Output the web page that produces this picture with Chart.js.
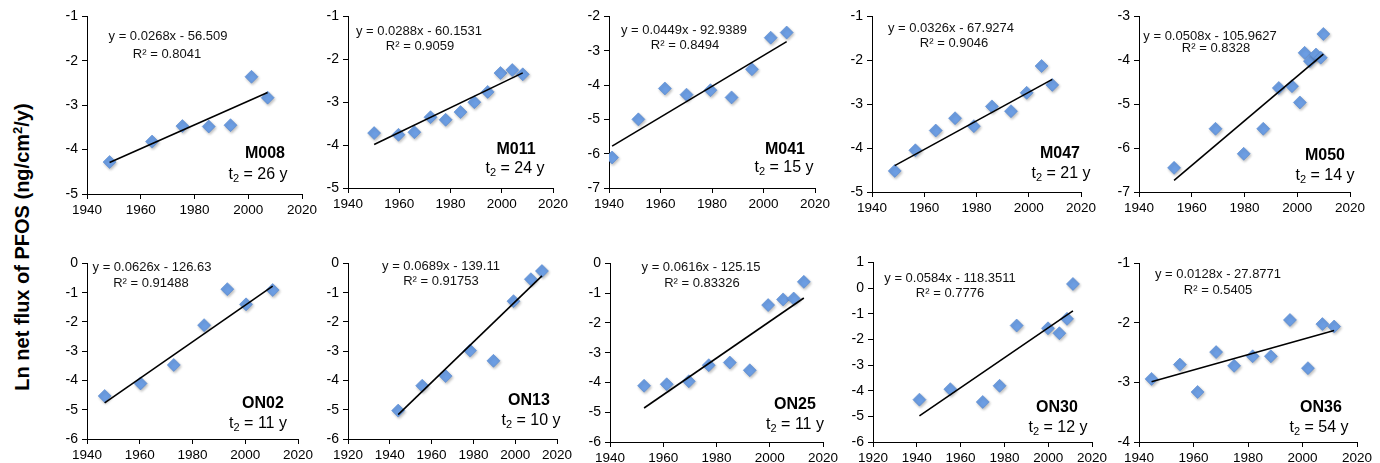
<!DOCTYPE html>
<html>
<head>
<meta charset="utf-8">
<script src="https://cdn.jsdelivr.net/npm/chart.js@4.4.1/dist/chart.umd.min.js"></script>
<style>
  html, body { margin: 0; padding: 0; background: #fff; }
  body { width: 1380px; height: 463px; position: relative; overflow: hidden;
         font-family: "Liberation Sans", Arial, Helvetica, sans-serif; color: #000; }
  .panel { position: absolute; }
  .txt { position: absolute; transform: translate(-50%, -50%); white-space: nowrap; }
  .eq { font-size: 13px; color: #111; }
  .name { font-size: 16px; font-weight: bold; }
  .t2 { font-size: 16px; }
  .t2 sub { font-size: 11px; vertical-align: -3px; line-height: 0; }
  #ytitle { position: absolute; left: 22px; top: 247px; transform: translate(-50%, -50%) rotate(-90deg);
            font-size: 20px; font-weight: bold; white-space: nowrap; }
  #ytitle sup { font-size: 13px; vertical-align: 7px; line-height: 0; }
</style>
</head>
<body>
<div id="ytitle">Ln net flux of PFOS (ng/cm<sup>2</sup>/y)</div>
<script>
// ---------------- DATA ----------------
const stations = ['M008', 'M011', 'M041', 'M047', 'M050', 'ON02', 'ON13', 'ON25', 'ON30', 'ON36'];

const m008Years = [1948.4, 1964.2, 1975.5, 1985.3, 1993.4, 2001.2, 2007.2];
const m008Flux  = [-4.28, -3.82, -3.47, -3.48, -3.45, -2.36, -2.83];

const m011Years = [1950.2, 1959.7, 1965.9, 1972.2, 1978.1, 1983.9, 1989.3, 1994.5, 1999.5, 2004.1, 2008.2];
const m011Flux  = [-3.72, -3.76, -3.70, -3.35, -3.41, -3.23, -3.00, -2.76, -2.32, -2.25, -2.35];

const m041Years = [1941.2, 1951.4, 1961.7, 1970.1, 1979.4, 1987.6, 1995.5, 2002.8, 2009.0];
const m041Flux  = [-6.11, -5.00, -4.10, -4.28, -4.15, -4.36, -3.54, -2.62, -2.47];

const m047Years = [1948.7, 1956.6, 1964.4, 1971.8, 1979.0, 1985.9, 1993.2, 1999.2, 2004.9, 2009.0];
const m047Flux  = [-4.52, -4.05, -3.60, -3.32, -3.50, -3.05, -3.16, -2.74, -2.13, -2.56];

const m050Years = [1953.3, 1969.0, 1979.7, 1987.1, 1993.0, 1998.0, 2001.0, 2002.8, 2004.8, 2007.1, 2008.9, 2009.9];
const m050Flux  = [-6.45, -5.56, -6.13, -5.56, -4.63, -4.59, -4.96, -3.83, -4.02, -3.87, -3.94, -3.40];

const on02Years = [1946.7, 1960.3, 1972.9, 1984.4, 1993.2, 2000.3, 2010.4];
const on02Flux  = [-4.53, -4.10, -3.47, -2.11, -0.88, -1.40, -0.91];

const on13Years = [1944.0, 1955.5, 1966.7, 1978.4, 1989.6, 1999.2, 2007.5, 2012.8];
const on13Flux  = [-5.03, -4.18, -3.85, -2.98, -3.33, -1.29, -0.54, -0.26];

const on25Years = [1952.8, 1961.3, 1969.6, 1977.1, 1985.0, 1992.5, 1999.4, 2005.0, 2009.0, 2012.8];
const on25Flux  = [-4.11, -4.06, -3.96, -3.42, -3.33, -3.59, -1.40, -1.21, -1.18, -0.62];

const on30Years = [1941.2, 1955.3, 1970.1, 1977.8, 1985.6, 1999.9, 2005.1, 2008.6, 2011.3];
const on30Flux  = [-4.35, -3.94, -4.44, -3.81, -1.46, -1.57, -1.76, -1.20, 0.16];

const on36Years = [1944.6, 1955.0, 1961.5, 1968.3, 1974.9, 1981.7, 1988.4, 1995.4, 2002.0, 2007.3, 2011.6];
const on36Flux  = [-2.94, -2.70, -3.16, -2.49, -2.72, -2.56, -2.56, -1.95, -2.76, -2.02, -2.06];

const stationYears = [m008Years, m011Years, m041Years, m047Years, m050Years, on02Years, on13Years, on25Years, on30Years, on36Years];
const stationFlux  = [m008Flux, m011Flux, m041Flux, m047Flux, m050Flux, on02Flux, on13Flux, on25Flux, on30Flux, on36Flux];

// regression results shown on each panel
const slopes     = [0.0268, 0.0288, 0.0449, 0.0326, 0.0508, 0.0626, 0.0689, 0.0616, 0.0584, 0.0128];
const intercepts = [-56.509, -60.1531, -92.9389, -67.9274, -105.9627, -126.63, -139.11, -125.15, -118.3511, -27.8771];
const rSquared   = [0.8041, 0.9059, 0.8494, 0.9046, 0.8328, 0.91488, 0.91753, 0.83326, 0.7776, 0.5405];
const halfLives  = [26, 24, 15, 21, 14, 11, 10, 11, 12, 54];

// axis ranges / ticks
const xMinTicks = [1940, 1940, 1940, 1940, 1940, 1940, 1920, 1940, 1920, 1940];
const xMaxTicks = [2020, 2020, 2020, 2020, 2020, 2020, 2020, 2020, 2020, 2020];
const yMinTicks = [-5, -5, -7, -5, -7, -6, -6, -6, -6, -4];
const yMaxTicks = [-1, -1, -2, -1, -3, 0, 0, 0, 1, -1];

// ---------------- LAYOUT (pixel boxes of each plot area & labels) ----------------
// [left, right, top, bottom] of the plot area
const plotBoxes = [
  [87, 302, 16, 194], [348, 553, 16, 188], [609, 815, 16, 188], [872, 1081, 16, 192], [1139, 1350, 16, 192],
  [87, 298, 263, 439], [348, 557, 263, 439], [610, 823, 263, 442], [873, 1092, 262, 442], [1139, 1357, 263, 442]
];
// [eqX, eqY, r2X, r2Y, nameX, nameY, t2X, t2Y]
const labelSpots = [
  [168, 35, 167, 53, 265, 153, 258, 174],
  [419, 30, 420, 45, 516, 149, 515, 168],
  [684, 29, 685, 44, 785, 149, 784, 167],
  [951, 27, 954, 42, 1060, 153, 1061, 173],
  [1210, 35, 1216, 47, 1325, 155, 1325, 175],
  [152, 266, 151, 282, 263, 403, 258, 423],
  [441, 265, 441, 280, 529, 400, 531, 420],
  [701, 266, 702, 282, 795, 404, 795, 424],
  [950, 277, 950, 292, 1057, 407, 1058, 427],
  [1218, 273, 1218, 289, 1321, 407, 1319, 427]
];

const AX_W = 45, AX_H = 26, PAD_T = 12, PAD_R = 26;
const FONT = '"Liberation Sans", Arial, Helvetica, sans-serif';

const shadowPlugin = {
  id: 'markerShadow',
  beforeDatasetDraw(chart, args) {
    if (args.index === 0) {
      const c = chart.ctx; c.save();
      c.shadowColor = 'rgba(0,0,0,0.28)'; c.shadowBlur = 3; c.shadowOffsetX = 1; c.shadowOffsetY = 1.5;
    }
  },
  afterDatasetDraw(chart, args) {
    if (args.index === 0) chart.ctx.restore();
  }
};

function addText(cls, html, x, y) {
  const d = document.createElement('div');
  d.className = 'txt ' + cls;
  d.innerHTML = html;
  d.style.left = x + 'px';
  d.style.top = y + 'px';
  document.body.appendChild(d);
}

stations.forEach((name, i) => {
  const [L, R, T, B] = plotBoxes[i];
  const wrap = document.createElement('div');
  wrap.className = 'panel';
  const w = (R - L) + AX_W + PAD_R, h = (B - T) + PAD_T + AX_H;
  wrap.style.left = (L - AX_W) + 'px';
  wrap.style.top = (T - PAD_T) + 'px';
  wrap.style.width = w + 'px';
  wrap.style.height = h + 'px';
  const cv = document.createElement('canvas');
  wrap.appendChild(cv);
  document.body.appendChild(wrap);

  const xs = stationYears[i], ys = stationFlux[i];
  const pts = xs.map((x, k) => ({ x: x, y: ys[k] }));
  const x0 = Math.min(...xs), x1 = Math.max(...xs);
  const trend = [x0, x1].map(x => ({ x: x, y: slopes[i] * x + intercepts[i] }));

  new Chart(cv, {
    type: 'scatter',
    data: {
      datasets: [
        { data: pts, pointStyle: 'rectRot', pointRadius: 6.5, pointHoverRadius: 6.5,
          backgroundColor: '#6c9de2', borderColor: '#5688d0', borderWidth: 0.6, order: 2 },
        { type: 'line', data: trend, borderColor: '#000', borderWidth: 1.6, pointRadius: 0,
          fill: false, tension: 0, order: 1 }
      ]
    },
    options: {
      responsive: true, maintainAspectRatio: false, animation: false,
      events: [],
      layout: { padding: { top: PAD_T, right: PAD_R, left: 0, bottom: 0 } },
      plugins: { legend: { display: false }, tooltip: { enabled: false } },
      scales: {
        x: {
          type: 'linear', min: xMinTicks[i], max: xMaxTicks[i],
          afterFit(s) { s.height = AX_H; },
          border: { display: true, color: '#000', width: 1 },
          grid: { display: true, drawOnChartArea: false, drawTicks: true, tickLength: 5, color: '#000' },
          ticks: { stepSize: 20, autoSkip: false, maxRotation: 0, padding: 3, color: '#000',
                   font: { family: FONT, size: 13.5 }, callback: v => String(v) }
        },
        y: {
          type: 'linear', min: yMinTicks[i], max: yMaxTicks[i],
          afterFit(s) { s.width = AX_W; },
          border: { display: true, color: '#000', width: 1 },
          grid: { display: true, drawOnChartArea: false, drawTicks: true, tickLength: 5, color: '#000' },
          ticks: { stepSize: 1, autoSkip: false, padding: 4, color: '#000',
                   font: { family: FONT, size: 14 }, callback: v => String(v) }
        }
      }
    },
    plugins: [shadowPlugin]
  });

  const s = labelSpots[i];
  const sign = intercepts[i] < 0 ? ' - ' : ' + ';
  addText('eq', 'y = ' + slopes[i] + 'x' + sign + Math.abs(intercepts[i]), s[0], s[1]);
  addText('eq', 'R\u00B2 = ' + rSquared[i], s[2], s[3]);
  addText('name', name, s[4], s[5]);
  addText('t2', 't<sub>2</sub> = ' + halfLives[i] + ' y', s[6], s[7]);
});
</script>
</body>
</html>
